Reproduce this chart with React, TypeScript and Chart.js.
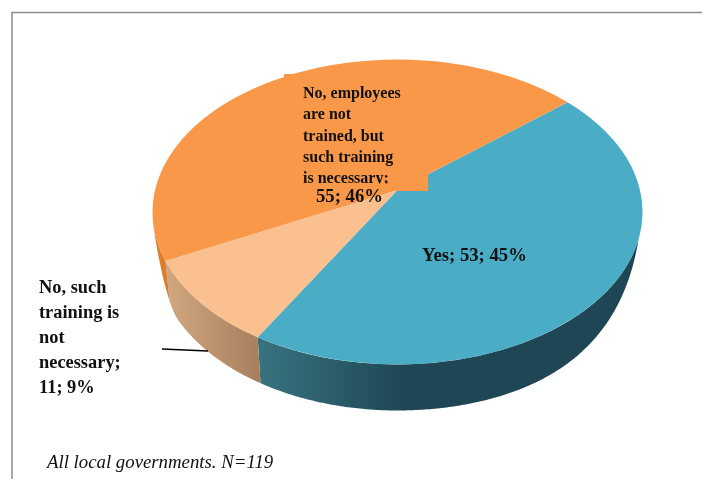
import React, { useEffect, useRef } from "react";
import { Chart, registerables } from "chart.js";

Chart.register(...registerables);

const categories = ["Yes", "No, such training is not necessary", "No, employees are not trained, but such training is necessary"];
const counts = [53, 11, 55];
const percents = [45, 9, 46];
const topColors = ["#4bacc6", "#fac090", "#f99848"];
const sideShades = [
  ["#37737f", "#1f4654"],
  ["#d0a67e", "#a67f5e"],
  ["#dc8232", "#d87a2a"],
];
const wrappedSecond = ["No, such", "training is", "not", "necessary;"];
const wrappedThird = ["No, employees", "are not", "trained, but", "such training", "is necessary;"];
const footnote = "All local governments. N=119";

const SERIF = '"Liberation Serif", "Times New Roman", serif';
const PERSPECTIVE = 0.0723;
const ASPECT = 245 / 152.5;
const DEPTH = 46;

// Maps a true pie angle to the angle on the rim of the foreshortened top face.
function rimAngle(t: number) {
  const cr = Math.cos(t), ci = Math.sin(t);
  const nr = cr, ni = ci - PERSPECTIVE;
  const dr = 1 - PERSPECTIVE * ci, di = PERSPECTIVE * cr;
  return t + (Math.atan2(ni, nr) - Math.atan2(di, dr) - Math.atan2(ci, cr));
}

function leftTaper(phi: number) {
  const t = Math.min(1, Math.max(0, (Math.sin(phi) - 0.05) / 0.35));
  return t * t * (3 - 2 * t);
}

// Vertical thickness of the side wall at a rim angle, tapering towards the extremes.
function wallDepth(phi: number) {
  if (Math.cos(phi) < 0) return DEPTH * leftTaper(phi);
  const t = Math.max(0, (Math.sin(phi) - 0.18) / 0.82);
  return DEPTH * (1 - Math.pow(1 - t, 2.2));
}

const pie3d = {
  id: "pie3d",
  beforeDatasetsDraw(chart: any) {
    const ctx: CanvasRenderingContext2D = chart.ctx;
    const arcs = chart.getDatasetMeta(0).data;
    const first = arcs[0];
    const cx = first.x, cy = first.y, ry = first.outerRadius, rx = ry * ASPECT;
    const lower = (phi: number) => ({
      x: cx + rx * Math.cos(phi) + 5 * Math.max(0, -Math.cos(phi)) * leftTaper(phi),
      y: cy + ry * Math.sin(phi) + wallDepth(phi),
    });

    arcs.forEach((el: any, i: number) => {
      const a0 = rimAngle(el.startAngle);
      const a1 = rimAngle(el.endAngle);
      const from = Math.max(a0, 0.15);
      const to = Math.min(a1, Math.PI - 0.05);
      if (to <= from) return;
      const x0 = lower(to).x;
      const x1 = lower(from).x;
      const g = ctx.createLinearGradient(x0, 0, i === 0 ? x0 + 145 : x1, 0);
      g.addColorStop(0, sideShades[i][0]);
      g.addColorStop(1, sideShades[i][1]);
      ctx.beginPath();
      ctx.ellipse(cx, cy, rx, ry, 0, from, to, false);
      const steps = Math.ceil((to - from) / 0.01);
      for (let s = 0; s <= steps; s++) {
        const p = lower(to - ((to - from) * s) / steps);
        ctx.lineTo(p.x, p.y);
      }
      ctx.closePath();
      ctx.fillStyle = g;
      ctx.fill();
    });

    const apexY = cy - ry * (2 * PERSPECTIVE) / (1 + PERSPECTIVE * PERSPECTIVE);
    arcs.forEach((el: any) => {
      ctx.beginPath();
      ctx.moveTo(cx, apexY);
      ctx.ellipse(cx, cy, rx, ry, 0, rimAngle(el.startAngle), rimAngle(el.endAngle), false);
      ctx.closePath();
      ctx.fillStyle = el.options.backgroundColor;
      ctx.fill();
    });
    return false;
  },
  afterDraw(chart: any) {
    const ctx: CanvasRenderingContext2D = chart.ctx;
    ctx.save();

    // frame
    ctx.strokeStyle = "#8c8c8c";
    ctx.lineWidth = 1.5;
    ctx.beginPath();
    ctx.moveTo(12, 479);
    ctx.lineTo(12, 12.5);
    ctx.lineTo(702, 12.5);
    ctx.stroke();

    // label box of the largest slice
    ctx.fillStyle = topColors[2];
    ctx.fillRect(284, 74, 144, 117);

    ctx.fillStyle = "#111";
    ctx.textBaseline = "middle";
    ctx.textAlign = "left";

    ctx.save();
    ctx.beginPath();
    ctx.rect(284, 74, 144, 109.5);
    ctx.clip();
    ctx.font = `bold 16px ${SERIF}`;
    wrappedThird.forEach((line, i) => ctx.fillText(line, 303, 94 + i * 21.3));
    ctx.restore();

    ctx.font = `bold 18.7px ${SERIF}`;
    ctx.fillText(`${counts[2]}; ${percents[2]}%`, 316, 197);
    ctx.fillText(`${categories[0]}; ${counts[0]}; ${percents[0]}%`, 422, 256);

    ctx.font = `bold 18.4px ${SERIF}`;
    wrappedSecond.forEach((line, i) => ctx.fillText(line, 39, 288 + i * 25));
    ctx.fillText(`${counts[1]}; ${percents[1]}%`, 39, 388);

    // leader line
    ctx.strokeStyle = "#000";
    ctx.lineWidth = 1.3;
    ctx.beginPath();
    ctx.moveTo(162, 349);
    ctx.lineTo(208, 351);
    ctx.stroke();

    ctx.font = `italic 18.8px ${SERIF}`;
    ctx.fillText(footnote, 47, 463);
    ctx.restore();
  },
};

export default function App() {
  const ref = useRef<HTMLCanvasElement>(null);
  useEffect(() => {
    const chart = new Chart(ref.current!, {
      type: "pie",
      data: {
        labels: categories,
        datasets: [{ data: counts, backgroundColor: topColors, borderWidth: 0 }],
      },
      options: {
        responsive: false,
        animation: false,
        rotation: 50,
        layout: { padding: { left: 245, right: 152, top: 59.5, bottom: 114.5 } },
        plugins: { legend: { display: false }, tooltip: { enabled: false }, title: { display: false } },
      },
      plugins: [pie3d],
    } as any);
    return () => chart.destroy();
  }, []);
  return (
    <div style={{ position: "fixed", left: 0, top: 0, width: 702, height: 479, background: "#fff" }}>
      <canvas ref={ref} width={702} height={479} style={{ display: "block", width: 702, height: 479 }} />
    </div>
  );
}
